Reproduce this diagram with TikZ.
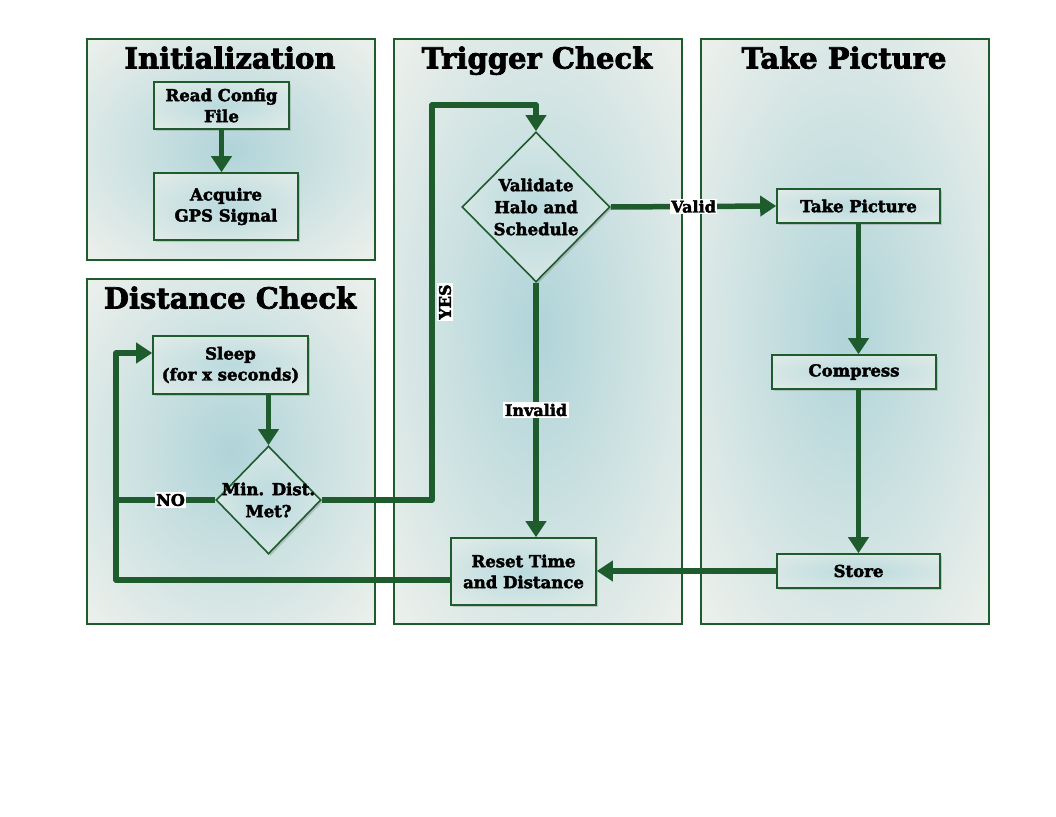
\documentclass[tikz,border=0pt]{standalone}
\usepackage{fontspec}
\setmainfont{DejaVu Serif}[BoldFeatures={FakeBold=2.5}]
\usetikzlibrary{arrows.meta,shapes.geometric,shadows}
\definecolor{dg}{RGB}{30,92,46}
\definecolor{pout}{RGB}{238,241,236}
\definecolor{pin}{RGB}{176,212,217}
\definecolor{nin}{RGB}{186,218,222}
\definecolor{nout}{RGB}{236,240,234}
\pgfdeclareradialshading{panelshade}{\pgfpoint{0bp}{0bp}}{color(0bp)=(pin); color(36bp)=(pout); color(50bp)=(pout)}
\pgfdeclareradialshading{nodeshade}{\pgfpoint{0bp}{0bp}}{color(0bp)=(nin); color(45bp)=(nout); color(50bp)=(nout)}
\tikzset{
  panel/.style={draw=dg, line width=1.8pt, shade, shading=panelshade, inner sep=0pt},
  ptitle/.style={font=\fontsize{29}{31}\selectfont\bfseries, inner sep=0pt, anchor=base},
  box/.style={draw=dg, line width=1.6pt, shade, shading=nodeshade, inner sep=0pt,
    drop shadow={shadow xshift=2pt, shadow yshift=-2pt, opacity=0.35},
    align=center, font=\fontsize{16.5}{21}\selectfont\bfseries},
  dia/.style={draw=dg, line width=1.6pt, diamond, shade, shading=nodeshade, inner sep=0pt,
    drop shadow={shadow xshift=2pt, shadow yshift=-2pt, opacity=0.35}},
  diatext/.style={align=center, font=\fontsize{16.5}{22}\selectfont\bfseries, inner sep=0pt},
  conn/.style={draw=dg, line width=5.5pt, line join=round},
  arr/.style={conn, -{Triangle[length=16pt,width=20pt]}},
  lab/.style={fill=white, inner sep=1.5pt, font=\fontsize{16}{18}\selectfont\bfseries}
}
\begin{document}
\begin{tikzpicture}[x=1pt,y=-1pt]
\useasboundingbox[fill=white] (0,0) rectangle (1056,816);
% panels
\node[panel, minimum width=288pt, minimum height=221pt] (pinit) at (231,149.5) {};
\node[panel, minimum width=288pt, minimum height=345pt] (pdist) at (231,451.5) {};
\node[panel, minimum width=288pt, minimum height=585pt] (ptrig) at (538,331.5) {};
\node[panel, minimum width=288pt, minimum height=585pt] (ptake) at (845,331.5) {};
% titles
\node[ptitle] (tinit) at (230,68.5) {Initialization};
\node[ptitle] (tdist) at (230,308.5) {Distance Check};
\node[ptitle] (ttrig) at (537,68.5) {Trigger Check};
\node[ptitle] (ttake) at (844,68.5) {Take Picture};
% nodes
\node[box, minimum width=135pt, minimum height=47pt] (rc) at (221.5,105.5) {Read Config\\File};
\node[box, minimum width=144pt, minimum height=67pt] (ag) at (226,206.5) {Acquire\\GPS Signal};
\node[box, minimum width=155pt, minimum height=58pt] (sl) at (230.5,365) {Sleep\\(for x seconds)};
\node[dia, minimum width=105pt, minimum height=108pt] (md) at (268.5,500) {};
\node[diatext] (mdt) at (md) {Min. Dist.\\Met?};
\node[dia, minimum width=148pt, minimum height=150pt] (vd) at (536,207) {};
\node[diatext] (vdt) at (vd) {Validate\\Halo and\\Schedule};
\node[box, minimum width=163pt, minimum height=34pt] (tp) at (858.5,206) {Take Picture};
\node[box, minimum width=164pt, minimum height=34pt] (cp) at (854,372) {Compress};
\node[box, minimum width=163pt, minimum height=34pt] (st) at (858.5,571) {Store};
\node[box, minimum width=145pt, minimum height=67pt] (rs) at (523.5,571.5) {Reset Time\\and Distance};
% coordinates
\coordinate (lpb) at (116,580);
\coordinate (lpt) at (116,353);
\coordinate (yb) at (432,500);
\coordinate (yt) at (432,105);
% connectors
\draw[arr] (rc.south) -- (rc.south |- ag.north);
\draw[arr] (md.north |- sl.south) -- (md.north);
\draw[conn] (md.west) -- node[lab, pos=0.45] (lno) {NO} (md.west -| lpb);
\draw[arr] (rs.west |- lpb) -- (lpb) -- (lpt) -- (sl.west |- lpt);
\draw[arr] (md.east) -- (yb) -- (yt) -- (yt -| vd.north) -- (vd.north);
\node[lab, rotate=90] (lyes) at (445,302) {YES};
\draw[arr] (vd.east) -- node[lab, pos=0.5] (lvalid) {Valid} (tp.west);
\draw[arr] (vd.south) -- node[lab, pos=0.5] (linv) {Invalid} (vd.south |- rs.north);
\draw[arr] (tp.south) -- (tp.south |- cp.north);
\draw[arr] (tp.south |- cp.south) -- (tp.south |- st.north);
\draw[arr] (st.west) -- (st.west -| rs.east);
\end{tikzpicture}
\end{document}
